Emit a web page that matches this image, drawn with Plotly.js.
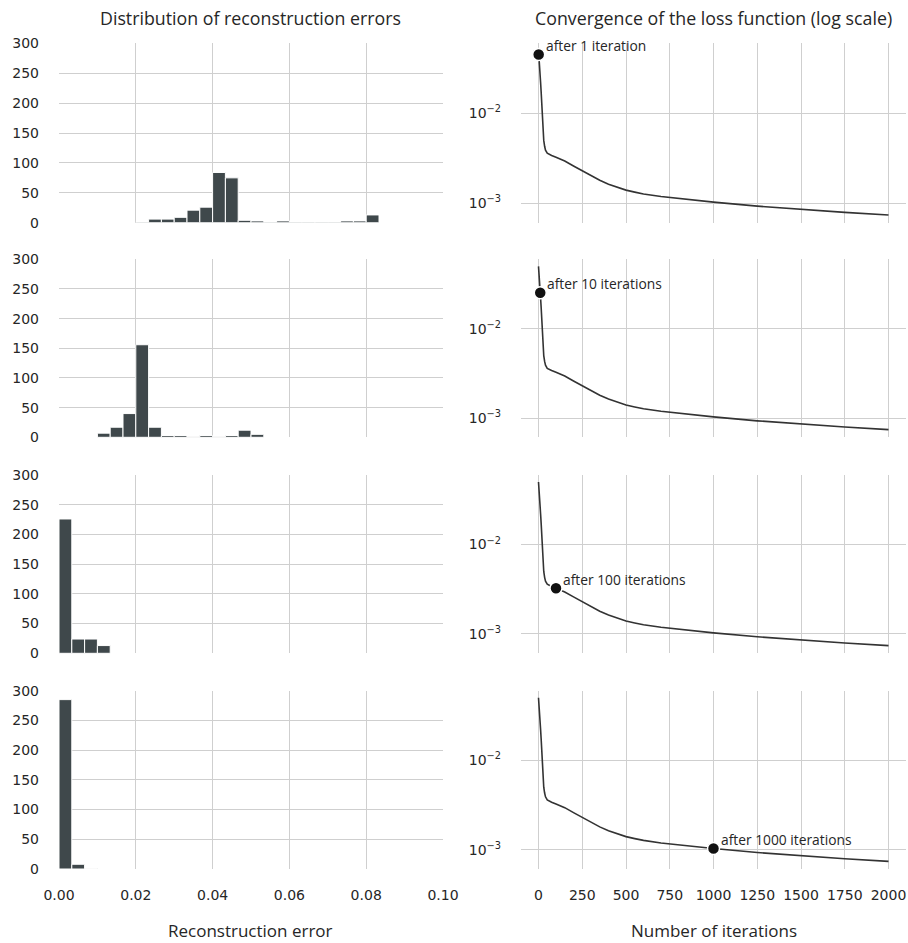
<!DOCTYPE html>
<html>
<head>
<meta charset="utf-8">
<script src="https://cdn.plot.ly/plotly-3.0.1.min.js"></script>
<style>html,body{margin:0;padding:0;background:#fff;}#chart{width:908px;height:943px;}</style>
</head>
<body>
<div id="chart"></div>
<script>
// ---------- data ----------
// histogram: 30 equal bins over [0, 0.1]; counts per bin (bins not listed are empty)
const binWidth = 0.1 / 30;
const errBinIndex1 = [6,7,8,9,10,11,12,13,14,15,16,17,18,19,20,21,22,23,24];
const errCounts1   = [1,6,6,9,21,26,84,75,4,3,1,3,1,1,1,1,3,3,13];
const errBinIndex10 = [3,4,5,6,7,8,9,10,11,12,13,14,15];
const errCounts10   = [7,17,40,156,17,3,3,1,3,1,3,12,5];
const errBinIndex100 = [0,1,2,3];
const errCounts100   = [226,24,24,13];
const errBinIndex1000 = [0,1,2];
const errCounts1000   = [285,8,1];

// loss curve
const iterations = [0,1,3,5,8,10,12,15,18,20,25,30,35,40,50,60,75,100,125,150,200,250,300,350,400,450,500,550,600,700,800,900,1000,1250,1500,1750,2000];
const loss = [0.050,0.045,0.038,0.033,0.028,0.0253,0.022,0.0175,0.0125,0.0098,0.0068,0.0050,0.0043,0.0039,0.0036,0.0035,0.0034,0.00325,0.0031,0.00295,0.0026,0.00229,0.00202,0.00180,0.00163,0.00150,0.00140,0.00133,0.00127,0.00119,0.00113,0.00108,0.00103,0.00093,0.000855,0.000792,0.000741];
const snapshotIters = [1,10,100,1000];
const snapshotLabels = ["after 1 iteration","after 10 iterations","after 100 iterations","after 1000 iterations"];
const histRows = [[errBinIndex1,errCounts1],[errBinIndex10,errCounts10],[errBinIndex100,errCounts100],[errBinIndex1000,errCounts1000]];

// ---------- styling ----------
const W = 908, H = 943;
const barColor = '#3f484b';
const gridColor = '#cfcfcf';
const tickFont = {family:'DejaVu Sans', size:14, color:'#262626'};
const textFont = 'Open Sans';
const xL = [59/W, 443/W], xR = [521/W, 906/W];
const rowsPx = [[43.3,222.7],[259.3,437.3],[475,653.3],[690.7,869]];
const yDom = rowsPx.map(r => [1 - r[1]/H, 1 - r[0]/H]);

const traces = [];
const layout = {
  width: W, height: H,
  margin: {l:0, r:0, t:0, b:0},
  paper_bgcolor: '#ffffff', plot_bgcolor: '#ffffff',
  showlegend: false,
  bargap: 0,
  annotations: []
};

histRows.forEach((row, i) => {
  const n = i + 1;
  const xs = row[0].map(b => (b + 0.5) * binWidth);
  traces.push({
    type: 'bar', x: xs, y: row[1], width: binWidth,
    xaxis: 'x' + (n === 1 ? '' : n), yaxis: 'y' + (n === 1 ? '' : n),
    marker: {color: barColor, line: {color: '#ffffff', width: 1.0}},
    hoverinfo: 'x+y'
  });
  layout['xaxis' + (n === 1 ? '' : n)] = {
    domain: xL, anchor: 'y' + (n === 1 ? '' : n), range: [0, 0.1], dtick: 0.02,
    tickformat: '.2f', showticklabels: n === 4, showgrid: true, gridcolor: gridColor, gridwidth: 1,
    zeroline: false, showline: false, ticks: '', tickfont: tickFont, ticklabelstandoff: 16
  };
  layout['yaxis' + (n === 1 ? '' : n)] = {
    domain: yDom[i], anchor: 'x' + (n === 1 ? '' : n), range: [0, 300], dtick: 50,
    showgrid: true, gridcolor: gridColor, gridwidth: 1, zeroline: false, showline: false,
    ticks: '', tickfont: tickFont, ticklabelstandoff: 19
  };
});

for (let i = 0; i < 4; i++) {
  const n = i + 5;
  const xa = 'x' + n, ya = 'y' + n;
  traces.push({
    type: 'scatter', mode: 'lines', x: iterations, y: loss, xaxis: xa, yaxis: ya,
    line: {color: '#333333', width: 1.6}, hoverinfo: 'x+y'
  });
  const it = snapshotIters[i];
  const v = loss[iterations.indexOf(it)];
  traces.push({
    type: 'scatter', mode: 'markers', x: [it], y: [v], xaxis: xa, yaxis: ya,
    marker: {color: '#111111', size: 12, line: {color: '#ffffff', width: 1.5}}, hoverinfo: 'x+y'
  });
  layout.annotations.push({
    xref: xa, yref: ya, x: it, y: Math.log10(v), text: snapshotLabels[i],
    showarrow: false, xanchor: 'left', yanchor: 'middle', xshift: 5, yshift: 9,
    font: {family: textFont, size: 13.8, color: '#262626'}
  });
  layout['xaxis' + n] = {
    domain: xR, anchor: ya, range: [-100, 2100],
    tickvals: [0,250,500,750,1000,1250,1500,1750,2000],
    showticklabels: n === 8, showgrid: true, gridcolor: gridColor, gridwidth: 1,
    zeroline: false, showline: false, ticks: '', tickfont: tickFont, ticklabelstandoff: 16
  };
  layout['yaxis' + n] = {
    domain: yDom[i], anchor: xa, type: 'log', range: [-3.216, -1.222],
    tickvals: [0.001, 0.01], ticktext: ['10<sup>−3</sup>', '10<sup>−2</sup>'],
    showgrid: true, gridcolor: gridColor, gridwidth: 1, zeroline: false, showline: false,
    ticks: '', tickfont: tickFont, ticklabelstandoff: 19
  };
}

const titleFont = {family: textFont, size: 17.8, color: '#262626'};
const axisTitleFont = {family: textFont, size: 17, color: '#262626'};
layout.annotations.push(
  {xref:'paper', yref:'paper', x:(xL[0]+xL[1])/2, y:1-18/H, text:'Distribution of reconstruction errors', showarrow:false, xanchor:'center', yanchor:'middle', font:titleFont},
  {xref:'paper', yref:'paper', x:(xR[0]+xR[1])/2, y:1-18/H, text:'Convergence of the loss function (log scale)', showarrow:false, xanchor:'center', yanchor:'middle', font:titleFont},
  {xref:'paper', yref:'paper', x:(xL[0]+xL[1])/2, y:1-930/H, text:'Reconstruction error', showarrow:false, xanchor:'center', yanchor:'middle', font:axisTitleFont},
  {xref:'paper', yref:'paper', x:(xR[0]+xR[1])/2, y:1-930/H, text:'Number of iterations', showarrow:false, xanchor:'center', yanchor:'middle', font:axisTitleFont}
);

Plotly.newPlot('chart', traces, layout, {displayModeBar: false, staticPlot: true});
</script>
</body>
</html>
